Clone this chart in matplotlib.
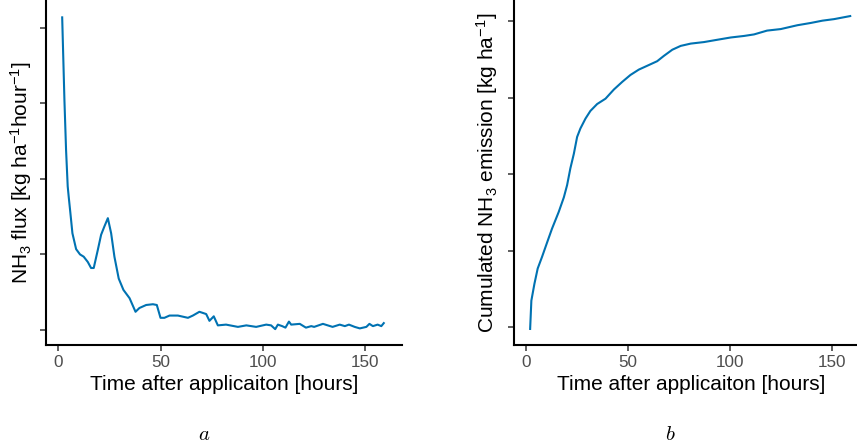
import matplotlib.pyplot as plt
import numpy as np

plt.rcParams['font.family'] = ['Liberation Sans', 'DejaVu Sans']
plt.rcParams['mathtext.fontset'] = 'custom'
plt.rcParams['mathtext.rm'] = 'Liberation Sans'
plt.rcParams['mathtext.it'] = 'Liberation Sans:italic'
plt.rcParams['mathtext.default'] = 'regular'

# flux (left panel) (arbitrary units, ticks at 0..4)
t_flux = [2, 3.1, 3.9, 4.7, 5.2, 6.0, 7.0, 8.8, 10.7, 12.5, 14.5, 16.1, 17.4, 19.4,
          21, 22.6, 24.3, 25.9, 27.5, 29.6, 31.9, 34.9, 37.8, 39.7, 43, 46.3, 48.2,
          50, 51.9, 54.4, 58.5, 63.4, 65.8, 69, 72.3, 73.9, 76, 78, 82, 87.8, 91.9,
          96.7, 101.6, 104, 106, 107.3, 109.4, 111, 112.7, 113.8, 118, 121, 123.6,
          125, 129.3, 134, 137.5, 140, 142, 144.8, 147.3, 150.5, 152, 153.7, 156,
          157.8, 159]
flux = [4.14, 3.04, 2.38, 1.90, 1.76, 1.55, 1.28, 1.07, 1.00, 0.97, 0.90, 0.82, 0.82,
        1.06, 1.26, 1.37, 1.48, 1.28, 0.97, 0.68, 0.53, 0.42, 0.24, 0.29, 0.33, 0.34,
        0.33, 0.16, 0.16, 0.19, 0.19, 0.16, 0.19, 0.24, 0.21, 0.12, 0.18, 0.06, 0.07,
        0.04, 0.06, 0.04, 0.07, 0.06, 0.01, 0.07, 0.05, 0.03, 0.11, 0.07, 0.08, 0.03,
        0.05, 0.04, 0.08, 0.04, 0.07, 0.05, 0.07, 0.04, 0.02, 0.04, 0.08, 0.05, 0.07,
        0.05, 0.09]

# cumulated emission (right panel)
t_cum = [2, 2.6, 4.1, 5.7, 7.8, 10.3, 12.7, 16, 18.5, 20.1, 21.7, 23.4, 25, 26.6,
         29.1, 31.5, 34.8, 38.9, 43, 47.1, 51.1, 55.2, 59.3, 64.2, 67.5, 71.6, 75.7,
         80.6, 87.1, 93.6, 100.2, 106.7, 111.6, 118, 124.7, 132.8, 139.4, 145.1,
         150.8, 158.7]
cum = [-0.02, 0.35, 0.57, 0.77, 0.92, 1.11, 1.29, 1.51, 1.70, 1.86, 2.08, 2.27, 2.49,
       2.60, 2.73, 2.83, 2.92, 2.99, 3.11, 3.21, 3.30, 3.37, 3.42, 3.48, 3.55, 3.63,
       3.68, 3.71, 3.73, 3.76, 3.79, 3.81, 3.83, 3.88, 3.90, 3.95, 3.98, 4.01, 4.03,
       4.07]

x_ticks = [0, 50, 100, 150]
y_ticks = [0, 1, 2, 3, 4]
xlab = "Time after applicaiton [hours]"
line_col = "#0072B2"

fig = plt.figure(figsize=(8.57, 4.48), dpi=100)
ax1 = fig.add_axes([46 / 857, 1 - 345 / 448, 356 / 857, 345 / 448])
ax2 = fig.add_axes([514 / 857, 1 - 345 / 448, 355 / 857, 345 / 448])

for ax, t, v, ylab, ylim, ylx in [
        (ax1, t_flux, flux, r"NH$_3$ flux [kg ha$^{-1}$hour$^{-1}$]", (-0.2, 4.37), 21),
        (ax2, t_cum, cum, r"Cumulated NH$_3$ emission [kg ha$^{-1}$]", (-0.23, 4.28), 487)]:
    ax.plot(t, v, color=line_col, lw=1.5)
    ax.set_xlim(-5.9, 167.9)
    ax.set_ylim(*ylim)
    ax.set_xticks(x_ticks)
    ax.set_yticks(y_ticks)
    ax.set_yticklabels([])
    ax.spines[['top', 'right']].set_visible(False)
    for s in ['left', 'bottom']:
        ax.spines[s].set_linewidth(1.5)
    ax.tick_params(length=4.5, width=1.1, color='#333333', labelsize=12.3,
                   labelcolor='#4D4D4D', pad=3)
    ax.set_xlabel(xlab, fontsize=15, labelpad=3.5)
    ax.set_ylabel(ylab, fontsize=15)
    ax.yaxis.set_label_coords(ylx / 857, 1 - 172.5 / 448, transform=fig.transFigure)
    ax.yaxis.label.set_va('center')

fig.text(204 / 857, 1 - 434 / 448, r"$\mathit{a}$", math_fontfamily='cm', fontsize=15,
         ha='center', va='center')
fig.text(670 / 857, 1 - 434 / 448, r"$\mathit{b}$", math_fontfamily='cm', fontsize=15,
         ha='center', va='center')

fig.savefig("out.png", dpi=100)
